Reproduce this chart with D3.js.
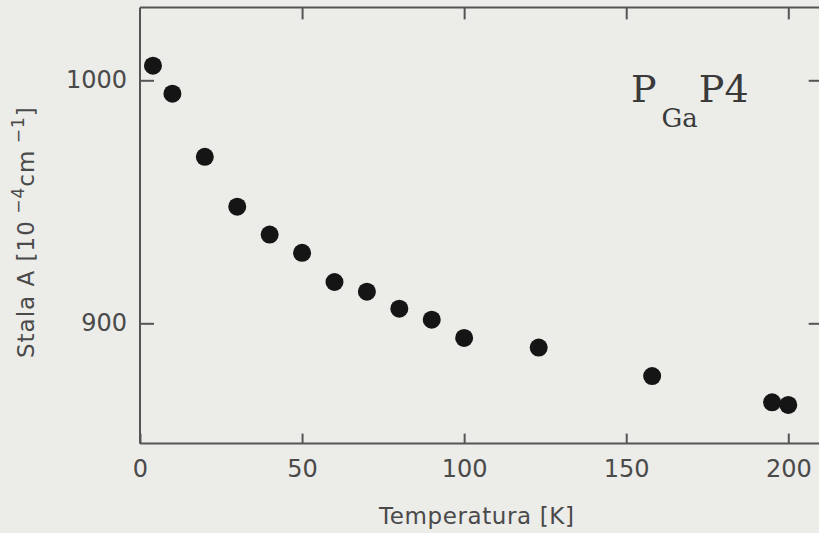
<!DOCTYPE html>
<html>
<head>
<meta charset="utf-8">
<script src="https://cdn.jsdelivr.net/npm/d3@7/dist/d3.min.js"></script>
<style>
  html, body { margin: 0; padding: 0; background: #ecece9; }
  svg { display: block; }
</style>
</head>
<body>
<div id="chart"></div>
<script>
// Data
const temperatures = [4, 10, 20, 30, 40, 50, 60, 70, 80, 90, 100, 123, 158, 195, 200];
const constantA = [1006, 994.5, 968.5, 948, 936.5, 929, 917, 913, 906, 901.5, 894, 890, 878.3, 867.5, 866.4];
const xTicks = [0, 50, 100, 150, 200];
const yTicks = [900, 1000];

const W = 819, H = 533;
const svg = d3.select("#chart").append("svg").attr("width", W).attr("height", H);

svg.append("rect").attr("width", W).attr("height", H).attr("fill", "#ecece9");

const x = d3.scaleLinear().domain([0, 210]).range([140, 820.7]);
const y = d3.scaleLinear().domain([850.5, 1030]).range([443.6, 7.4]);

const axisColor = "#555";
const textColor = "#4a4a4a";
const font = "'DejaVu Sans', sans-serif";

// frame
const frame = svg.append("g").attr("stroke", axisColor).attr("stroke-width", 2).attr("fill", "none");
frame.append("line").attr("x1", x(0)).attr("x2", x(0)).attr("y1", y(1030)).attr("y2", y(850.5));
frame.append("line").attr("x1", x(0)).attr("x2", x(210)).attr("y1", y(1030)).attr("y2", y(1030));
frame.append("line").attr("x1", x(0)).attr("x2", x(210)).attr("y1", y(850.5)).attr("y2", y(850.5));
frame.append("line").attr("x1", x(210)).attr("x2", x(210)).attr("y1", y(1030)).attr("y2", y(850.5));

function styleAxis(g) {
  g.select(".domain").remove();
  g.selectAll(".tick line").attr("stroke", axisColor).attr("stroke-width", 2);
  g.selectAll(".tick text").attr("fill", textColor).attr("font-family", font).attr("font-size", 24);
}

// bottom axis (ticks inward)
svg.append("g").attr("transform", `translate(0,${y(850.5)})`)
  .call(d3.axisBottom(x).tickValues(xTicks).tickSizeInner(-10).tickSizeOuter(0).tickPadding(16))
  .call(styleAxis);

// top axis, ticks only
svg.append("g").attr("transform", `translate(0,${y(1030)})`)
  .call(d3.axisTop(x).tickValues(xTicks.slice(1)).tickSizeInner(-12).tickSizeOuter(0).tickFormat(""))
  .call(styleAxis);

// left axis (ticks inward)
svg.append("g").attr("transform", `translate(${x(0)},0)`)
  .call(d3.axisLeft(y).tickValues(yTicks).tickSizeInner(-14).tickSizeOuter(0).tickPadding(13).tickFormat(d3.format("d")))
  .call(styleAxis);

// right axis, ticks only
svg.append("g").attr("transform", `translate(${x(210)},0)`)
  .call(d3.axisRight(y).tickValues(yTicks).tickSizeInner(-12).tickSizeOuter(0).tickFormat(""))
  .call(styleAxis);

// points
svg.append("g").selectAll("circle")
  .data(temperatures.map((t, i) => ({ t, a: constantA[i] })))
  .join("circle")
  .attr("cx", d => x(d.t))
  .attr("cy", d => y(d.a))
  .attr("r", 9)
  .attr("fill", "#151515");

// x label
svg.append("text")
  .attr("x", 379).attr("y", 524)
  .attr("fill", textColor).attr("font-family", font).attr("font-size", 23)
  .attr("letter-spacing", 0.6)
  .text("Temperatura [K]");

// y label
const yl = svg.append("text")
  .attr("transform", "translate(34,358) rotate(-90)")
  .attr("fill", textColor).attr("font-family", font).attr("font-size", 23)
  .attr("letter-spacing", 1);
yl.append("tspan").text("Stala A [10");
yl.append("tspan").attr("font-size", 17).attr("dy", -10).text(" \u22124");
yl.append("tspan").attr("dy", 10).text("cm");
yl.append("tspan").attr("font-size", 17).attr("dy", -10).text(" \u22121");
yl.append("tspan").attr("dy", 10).text("]");

// annotation P_Ga P4
const ann = svg.append("text")
  .attr("x", 631).attr("y", 102)
  .attr("fill", "#3a3a3a").attr("font-family", "'DejaVu Serif', serif").attr("font-size", 38);
ann.append("tspan").text("P");
ann.append("tspan").attr("font-size", 26).attr("dy", 25).attr("dx", 5).text("Ga");
ann.append("tspan").attr("dy", -25).attr("dx", 1).text("P4");
</script>
</body>
</html>
